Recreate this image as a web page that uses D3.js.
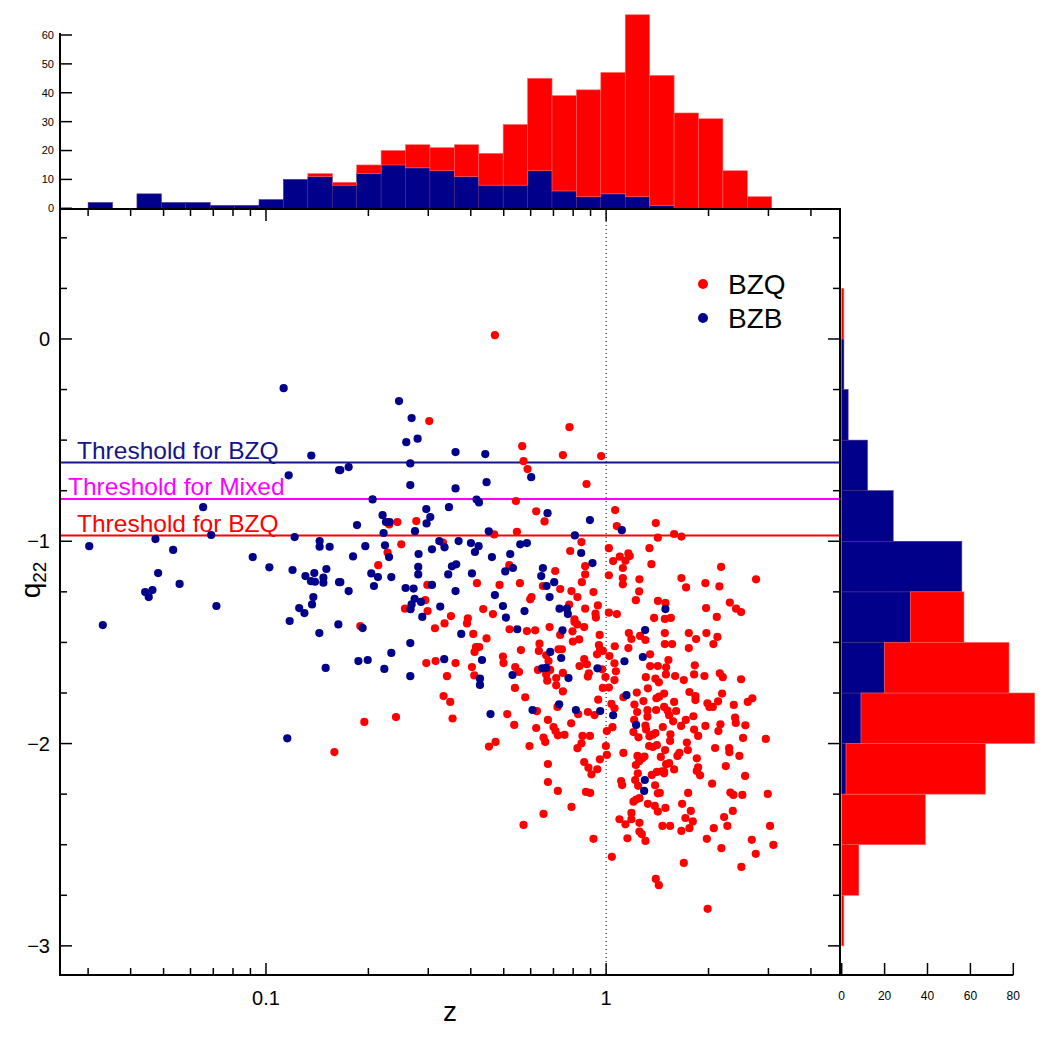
<!DOCTYPE html>
<html><head><meta charset="utf-8">
<script src="https://cdn.jsdelivr.net/npm/d3@7"></script>
<style>
body{margin:0;background:#fff}
svg{display:block}
text{font-family:"Liberation Sans",Arial,Helvetica,sans-serif}
</style>
</head><body>
<svg id="chart" width="1050" height="1050"></svg>
<script>
// ---------------- DATA ----------------
const seriesNames = ["BZQ", "BZB"];

// scatter points [z, q22]
const bzqPoints = [
[0.4710,0.019],[0.3020,-0.406],[0.7803,-0.436],[0.5666,-0.530],[0.7462,-0.574],[0.9669,-0.579],[0.5717,-0.604],[0.5875,-0.643],[0.8756,-0.717],[0.5430,-0.801],
[0.6229,-0.852],[0.6590,-0.902],[0.2304,-0.917],[0.2434,-0.905],[0.2766,-0.900],[0.4688,-0.966],[0.5466,-0.953],[0.8463,-1.004],[0.2499,-1.015],[0.3313,-1.007],
[0.7840,-1.048],[1.0187,-1.034],[0.2278,-1.056],[0.2138,-1.118],[0.5190,-1.118],[0.7084,-1.147],[0.8678,-1.123],[0.8678,-1.164],[1.0187,-1.168],[0.2981,-1.216],
[0.4171,-1.207],[0.4861,-1.216],[0.5579,-1.207],[0.6518,-1.221],[0.7327,-1.236],[0.7909,-1.246],[0.8486,-1.202],[0.9179,-1.251],[0.6034,-1.276],[0.5981,-1.287],
[0.8234,-1.276],[0.2940,-1.291],[0.2562,-1.333],[0.2986,-1.345],[0.4352,-1.335],[0.4647,-1.360],[0.7787,-1.313],[0.8678,-1.333],[0.9455,-1.317],[0.9305,-1.358],
[1.0187,-1.353],[0.3498,-1.370],[0.3922,-1.381],[0.8073,-1.386],[0.9330,-1.377],[0.1894,-1.419],[0.3139,-1.430],[0.3349,-1.406],[0.3899,-1.406],[0.4068,-1.458],
[0.4451,-1.480],[0.5201,-1.435],[0.5849,-1.444],[0.6187,-1.440],[0.6819,-1.424],[0.7327,-1.463],[0.7963,-1.445],[0.8073,-1.399],[0.8220,-1.411],[0.8620,-1.424],
[0.9572,-1.463],[0.2960,-1.602],[0.3152,-1.592],[0.3608,-1.602],[0.3405,-1.667],[0.4143,-1.523],[0.4236,-1.523],[0.4104,-1.547],[0.4032,-1.622],[0.4096,-1.663],
[0.4973,-1.570],[0.4993,-1.602],[0.5617,-1.538],[0.5404,-1.622],[0.5542,-1.646],[0.5393,-1.725],[0.6370,-1.506],[0.6341,-1.542],[0.6770,-1.592],[0.6665,-1.564],
[0.7244,-1.534],[0.7412,-1.534],[0.6303,-1.636],[0.6848,-1.636],[0.6665,-1.659],[0.6710,-1.689],[0.7132,-1.676],[0.7132,-1.712],[0.7462,-1.651],[0.7462,-1.742],
[0.5783,-1.771],[0.7984,-1.496],[0.8332,-1.485],[0.8620,-1.583],[0.8352,-1.617],[0.8778,-1.608],[0.8837,-1.669],[0.8896,-1.653],[0.9401,-1.559],[0.9604,-1.534],
[0.9781,-1.542],[0.9522,-1.513],[0.9955,-1.671],[0.9781,-1.725],[1.0187,-1.723],[0.9478,-1.783],[0.3327,-1.765],[0.3481,-1.794],[0.3536,-1.876],[0.2411,-1.869],
[0.1946,-1.893],[0.1589,-2.042],[0.5120,-1.854],[0.5368,-1.908],[0.4730,-1.992],[0.4524,-2.015],[0.6259,-1.840],[0.6744,-1.883],[0.6229,-1.923],[0.7003,-1.918],
[0.7099,-1.938],[0.7213,-1.959],[0.7545,-1.957],[0.6545,-1.970],[0.6621,-1.992],[0.5953,-2.012],[0.7194,-1.819],[0.8275,-1.855],[0.8837,-1.844],[0.9243,-1.859],
[0.7893,-1.900],[0.8521,-1.962],[0.8962,-1.962],[0.8463,-1.999],[0.8234,-2.023],[0.9982,-2.012],[1.0048,-2.056],[1.0048,-1.938],[0.9585,-2.078],[0.8620,-2.091],
[0.8870,-2.119],[0.9419,-2.127],[0.9055,-2.152],[0.6744,-2.101],[0.6744,-2.190],[0.7213,-2.234],[0.8720,-2.239],[0.8976,-2.244],[0.7909,-2.313],[0.6545,-2.348],
[0.5717,-2.402],[0.9179,-2.471],[1.0629,-0.846],[1.0752,-0.925],[1.3997,-0.910],[1.4191,-0.982],[1.5844,-0.964],[1.6644,-0.977],[1.3405,-1.034],
[1.0486,-1.098],[1.0966,-1.076],[1.1396,-1.096],[1.1625,-1.060],[1.1733,-1.073],[1.1197,-1.132],[1.3587,-1.113],[2.1774,-1.127],[2.7590,-1.188],[1.1197,-1.182],
[1.1197,-1.213],[1.2529,-1.188],[1.2504,-1.248],[1.6644,-1.182],[1.7182,-1.228],[1.9580,-1.207],[2.1526,-1.223],[1.2228,-1.291],[1.4201,-1.295],[1.4938,-1.305],
[2.3098,-1.303],[2.4099,-1.333],[2.4928,-1.350],[1.9672,-1.330],[2.1146,-1.374],[1.0752,-1.360],[1.3838,-1.379],[1.4878,-1.384],[1.5494,-1.379],[1.1661,-1.454],
[1.1868,-1.483],[1.2587,-1.468],[1.3048,-1.488],[1.4878,-1.454],[1.7499,-1.454],[1.8385,-1.483],[1.9713,-1.454],[2.1241,-1.473],[2.0669,-1.508],[1.4878,-1.508],
[1.5630,-1.508],[1.7499,-1.528],[1.0602,-1.519],[1.1625,-1.528],[1.0226,-1.567],[1.3468,-1.559],[1.0580,-1.603],[0.9735,-1.633],[1.0680,-1.643],[1.5244,-1.587],
[1.3468,-1.617],[1.4191,-1.617],[1.5008,-1.623],[1.8224,-1.613],[1.4986,-1.658],[1.5952,-1.666],[1.3083,-1.672],[1.3961,-1.679],[1.4287,-1.697],[1.6918,-1.686],
[1.8140,-1.658],[1.9451,-1.666],[2.1584,-1.653],[2.2025,-1.672],[2.4928,-1.682],[1.0580,-1.686],[1.3264,-1.727],[1.2308,-1.748],[1.1242,-1.771],
[1.2873,-1.790],[1.4055,-1.776],[1.4314,-1.768],[1.4807,-1.753],[1.5844,-1.794],[1.7573,-1.745],[1.8300,-1.765],[1.8300,-1.785],[1.9852,-1.801],[2.0118,-1.819],
[2.0584,-1.819],[2.1336,-1.791],[2.1921,-1.753],[2.3727,-1.809],[2.6082,-1.794],[2.6909,-1.776],[1.0365,-1.804],[1.0580,-1.826],[1.2112,-1.807],[1.2335,-1.844],
[1.2091,-1.883],[1.3225,-1.835],[1.3225,-1.867],[1.4026,-1.834],[1.4807,-1.819],[1.5145,-1.837],[1.6058,-1.839],[1.5736,-1.890],[1.5316,-1.860],[1.7149,-1.883],
[1.8055,-1.865],[1.6611,-1.913],[1.4676,-1.918],[1.3048,-1.911],[1.3108,-1.931],[1.2030,-1.943],[1.2446,-1.969],[1.3405,-1.964],[1.3716,-1.956],[1.3961,-1.948],
[1.5451,-1.954],[1.5420,-1.987],[1.8140,-1.931],[1.8641,-1.962],[1.9580,-1.913],[2.1378,-1.938],[2.1670,-1.905],[2.3939,-1.872],[2.4053,-1.898],[2.5666,-1.910],
[2.5268,-1.972],[2.9462,-1.977],[1.0436,-1.919],[1.1242,-2.046],[1.3377,-2.012],[1.3716,-2.017],[1.4093,-2.008],[1.4908,-2.032],[1.4480,-2.066],[1.5008,-2.102],
[1.5316,-2.097],[1.4807,-2.138],[1.5844,-2.128],[1.6202,-2.061],[1.6422,-2.046],[1.7268,-1.995],[1.7387,-2.032],[1.8475,-2.073],[1.8641,-2.117],[1.8890,-2.157],
[1.8475,-2.135],[2.0909,-2.022],[2.2985,-2.023],[2.3034,-2.043],[2.4645,-2.061],[2.2479,-2.111],[2.5614,-2.160],[2.0487,-2.198],[1.2363,-2.061],[1.2504,-2.087],
[1.2228,-2.106],[1.2758,-2.074],[1.2961,-2.064],[1.2391,-2.147],[1.3624,-2.155],[1.4093,-2.140],[1.4578,-2.137],[1.4807,-2.147],[1.2170,-2.180],[1.2420,-2.209],
[1.3933,-2.206],[1.1069,-2.185],[1.1145,-2.205],[1.2030,-2.287],[1.2251,-2.277],[1.2529,-2.270],[1.3264,-2.298],[1.3903,-2.308],[1.4191,-2.336],[1.4191,-2.246],
[1.4382,-2.244],[1.4938,-2.318],[1.6724,-2.298],[1.7739,-2.333],[1.7421,-2.244],[1.7105,-2.368],[1.7979,-2.385],[1.7573,-2.418],[1.6644,-2.432],[1.4637,-2.407],
[1.5420,-2.407],[1.1868,-2.343],[1.1868,-2.374],[1.0943,-2.374],[1.1396,-2.399],[1.2529,-2.392],[1.2529,-2.435],[1.2733,-2.448],[1.3048,-2.481],[1.1551,-2.468],
[1.0394,-2.560],[1.9770,-2.471],[2.1817,-2.517],[2.0725,-2.418],[2.2222,-2.363],[2.2721,-2.407],[2.3567,-2.333],[2.3187,-2.242],[2.3664,-2.254],[2.5149,-2.254],
[2.9865,-2.249],[2.6800,-2.476],[2.7537,-2.545],[3.0332,-2.407],[3.1021,-2.501],[2.4978,-2.610],[1.6918,-2.590],[1.3997,-2.669],[1.4287,-2.700],[1.9880,-2.817]
];

const bzbPoints = [
[0.1127,-0.243],[0.1359,-0.576],[0.1166,-0.674],[0.1640,-0.648],[0.06535,-0.831],[0.0690,-0.969],[0.03023,-1.024],[0.04732,-0.989],[0.05334,-1.043],[0.1214,-0.979],
[0.1438,-0.999],[0.1438,-1.027],[0.1539,-1.027],[0.0914,-1.078],[0.1023,-1.129],[0.1197,-1.142],[0.1505,-1.137],[0.1306,-1.172],[0.1387,-1.157],[0.1475,-1.180],
[0.1356,-1.197],[0.1393,-1.200],[0.1475,-1.205],[0.1640,-1.202],[0.04819,-1.157],[0.05573,-1.211],[0.04414,-1.251],[0.04637,-1.241],[0.04522,-1.276],[0.1378,-1.276],
[0.1366,-1.312],[0.0715,-1.320],[0.1252,-1.330],[0.1297,-1.355],[0.1174,-1.394],[0.1632,-1.411],[0.03314,-1.414],[0.1435,-1.454],[0.1498,-1.626],[0.1155,-1.974],
[0.2461,-0.307],[0.2680,-0.391],[0.2585,-0.510],[0.2791,-0.493],[0.3608,-0.559],[0.4412,-0.569],[0.6022,-0.683],[0.1654,-0.648],[0.1750,-0.633],[0.2656,-0.615],
[0.2656,-0.722],[0.4451,-0.708],[0.3608,-0.739],[0.2058,-0.793],[0.4160,-0.794],[0.4229,-0.808],[0.3451,-0.831],[0.2960,-0.841],[0.3041,-0.880],[0.2966,-0.912],
[0.6726,-0.861],[0.8962,-0.895],[0.2202,-0.871],[0.1852,-0.920],[0.2253,-0.905],[0.2309,-0.905],[0.2217,-0.959],[0.2742,-0.950],[0.4518,-0.951],[0.8093,-0.971],
[0.1959,-1.024],[0.2238,-1.020],[0.3232,-0.999],[0.3684,-0.999],[0.4005,-1.009],[0.4218,-1.024],[0.4115,-1.053],[0.3349,-1.030],[0.3076,-1.040],[0.5590,-1.015],
[0.5849,-1.009],[0.8446,-1.058],[0.1803,-1.075],[0.2300,-1.078],[0.2809,-1.063],[0.4616,-1.078],[0.5224,-1.063],[0.2803,-1.127],[0.2803,-1.164],[0.3521,-1.124],
[0.3625,-1.114],[0.5321,-1.132],[0.5051,-1.149],[0.6518,-1.132],[0.9117,-1.108],[0.2040,-1.159],[0.2134,-1.177],[0.2336,-1.177],[0.3434,-1.164],[0.4032,-1.159],
[0.6444,-1.172],[0.1654,-1.202],[0.1750,-1.246],[0.2077,-1.221],[0.2573,-1.231],[0.2716,-1.234],[0.3076,-1.216],[0.3608,-1.246],[0.6680,-1.221],[0.7036,-1.202],
[0.4710,-1.266],[0.6819,-1.276],[0.2735,-1.284],[0.2680,-1.312],[0.2661,-1.336],[0.2856,-1.300],[0.3253,-1.323],[0.4973,-1.320],[0.5755,-1.345],[0.7294,-1.333],
[0.7667,-1.333],[0.7718,-1.360],[0.5075,-1.377],[0.2881,-1.374],[0.1924,-1.429],[0.3750,-1.458],[0.5480,-1.435],[0.7442,-1.440],[0.2656,-1.503],[0.2336,-1.552],
[0.1869,-1.592],[0.1991,-1.587],[0.2228,-1.631],[0.2656,-1.667],[0.3342,-1.583],[0.4315,-1.587],[0.4257,-1.679],[0.4257,-1.710],[0.5306,-1.661],[0.6848,-1.547],
[0.7377,-1.577],[0.6487,-1.628],[0.6665,-1.626],[0.7751,-1.676],[0.9430,-1.628],[0.4572,-1.854],[0.6075,-1.834],[0.7275,-1.806],[0.8149,-1.834],[0.9604,-1.839],
[1.1122,-0.945],[1.4939,-1.335],[1.3021,-1.439],[1.2820,-1.572],[1.1320,-1.593],[1.1474,-1.761],[1.0486,-1.860],[1.2251,-1.908],[1.2994,-2.180],[1.2933,-2.234]
];

// top histogram (z, log bins) : stacked counts
const topBinZMin = 0.03, topBinZMax = 4.27;
const topBzb = [2,0,5,2,2,1,1,3,10,11,8,12,15,14,13,11,8,8,13,6,4,5,4,1,0,0,0,0,0,0];
const topBzq = [0,0,0,0,0,0,0,0,0,1,1,3,5,8,8,11,11,21,32,33,37,42,63,45,33,31,13,4,0,0];

// right histogram (q22 bins of 0.25, lower edges) : stacked counts
const rightBinLow = [-3,-2.75,-2.5,-2.25,-2,-1.75,-1.5,-1.25,-1,-0.75,-0.5,-0.25,0];
const rightBinWidth = 0.25;
const rightBzb = [0,0,0,2,9,20,32,56,24,12,3,1,0];
const rightBzq = [1,8,39,65,81,58,25,0,0,0,0,0,1];

// thresholds
const thresholdLabels = ["Threshold for BZQ","Threshold for Mixed","Threshold for BZQ"];
const thresholdValues = [-0.611,-0.791,-0.972];

// axis ticks
const xTickValues = [0.1, 1];
const xTickLabels = ["0.1","1"];
const yTickValues = [0,-1,-2,-3];
const yTickLabels = ["0","\u22121","\u22122","\u22123"];
const topTickValues = [0,10,20,30,40,50,60];
const rightTickValues = [0,20,40,60,80];

// ---------------- LAYOUT ----------------
const RED = "#ff0000", BLUE = "#00008a";
const thrColors = ["#14148c","#ff00ff","#ff0000"];
const L = 60, R = 840, T = 209, B = 975;
const svg = d3.select("#chart");

const x = d3.scaleLog().domain([0.0248, 4.87]).range([L, R]);
const y = d3.scaleLinear().domain([-3.144, 0.6425]).range([B, T]);
const yTop = d3.scaleLinear().domain([0, 60]).range([208.3, 35]);
const xRight = d3.scaleLinear().domain([0, 80]).range([841.7, 1013.3]);

// ---- top histogram
const nTop = topBzb.length;
const lzmin = Math.log10(topBinZMin), lzmax = Math.log10(topBinZMax);
const topBins = topBzb.map((b, i) => ({
  z0: Math.pow(10, lzmin + (lzmax - lzmin) * i / nTop),
  z1: Math.pow(10, lzmin + (lzmax - lzmin) * (i + 1) / nTop),
  bzb: b, bzq: topBzq[i]
}));
const gTop = svg.append("g");
gTop.selectAll("rect.tb").data(topBins.filter(d => d.bzb > 0)).join("rect")
  .attr("x", d => x(d.z0)).attr("width", d => x(d.z1) - x(d.z0))
  .attr("y", d => yTop(d.bzb)).attr("height", d => yTop(0) - yTop(d.bzb))
  .attr("fill", BLUE).attr("stroke", "#4a2a8a").attr("stroke-width", 0.6);
gTop.selectAll("rect.tr").data(topBins.filter(d => d.bzq > 0)).join("rect")
  .attr("x", d => x(d.z0)).attr("width", d => x(d.z1) - x(d.z0))
  .attr("y", d => yTop(d.bzb + d.bzq)).attr("height", d => yTop(d.bzb) - yTop(d.bzb + d.bzq))
  .attr("fill", RED).attr("stroke", "#ff6060").attr("stroke-width", 0.6);
// top hist y axis
gTop.append("line").attr("x1", L).attr("x2", L).attr("y1", yTop(60) - 2).attr("y2", yTop(0))
  .attr("stroke", "#000").attr("stroke-width", 2);
gTop.selectAll("line.tt").data(topTickValues).join("line")
  .attr("x1", L).attr("x2", L + 12).attr("y1", d => yTop(d)).attr("y2", d => yTop(d))
  .attr("stroke", "#000").attr("stroke-width", 1.5);
gTop.selectAll("text").data(topTickValues).join("text")
  .attr("x", 54).attr("y", d => yTop(d)).attr("dy", "0.36em")
  .attr("text-anchor", "end").attr("font-size", 11).text(d => d);

// ---- right histogram
const rightBins = rightBinLow.map((q0, i) => ({q0, q1: q0 + rightBinWidth, bzb: rightBzb[i], bzq: rightBzq[i]}));
const gR = svg.append("g");
gR.selectAll("rect.rb").data(rightBins.filter(d => d.bzb > 0)).join("rect")
  .attr("x", xRight(0)).attr("width", d => xRight(d.bzb) - xRight(0))
  .attr("y", d => y(d.q1)).attr("height", d => y(d.q0) - y(d.q1))
  .attr("fill", BLUE).attr("stroke", "#4a2a8a").attr("stroke-width", 0.6);
gR.selectAll("rect.rr").data(rightBins.filter(d => d.bzq > 0)).join("rect")
  .attr("x", d => xRight(d.bzb)).attr("width", d => xRight(d.bzb + d.bzq) - xRight(d.bzb))
  .attr("y", d => y(d.q1)).attr("height", d => y(d.q0) - y(d.q1))
  .attr("fill", RED).attr("stroke", "#ff6060").attr("stroke-width", 0.6);
gR.append("line").attr("x1", R).attr("x2", xRight(80)).attr("y1", B).attr("y2", B)
  .attr("stroke", "#000").attr("stroke-width", 2);
gR.selectAll("line.rt").data(rightTickValues).join("line")
  .attr("x1", d => xRight(d)).attr("x2", d => xRight(d)).attr("y1", B).attr("y2", B - 12)
  .attr("stroke", "#000").attr("stroke-width", 1.5);
gR.selectAll("text").data(rightTickValues).join("text")
  .attr("x", d => xRight(d)).attr("y", 1000).attr("text-anchor", "middle")
  .attr("font-size", 12).text(d => d);

// ---- main plot
const gM = svg.append("g");
// dotted line at z = 1
gM.append("line").attr("x1", x(1)).attr("x2", x(1)).attr("y1", T).attr("y2", B)
  .attr("stroke", "#000").attr("stroke-width", 1).attr("stroke-dasharray", "1,3");
// thresholds
thresholdValues.forEach((v, i) => {
  gM.append("line").attr("x1", L).attr("x2", R).attr("y1", y(v)).attr("y2", y(v))
    .attr("stroke", thrColors[i]).attr("stroke-width", 2);
});
const thrTextX = [77, 68, 77];
thresholdLabels.forEach((t, i) => {
  gM.append("text").attr("x", thrTextX[i]).attr("y", y(thresholdValues[i]) - 4)
    .attr("font-size", 24.5).attr("fill", thrColors[i]).text(t);
});
// points
gM.selectAll("circle.q").data(bzqPoints).join("circle")
  .attr("cx", d => x(d[0])).attr("cy", d => y(d[1])).attr("r", 4.1).attr("fill", RED);
gM.selectAll("circle.b").data(bzbPoints).join("circle")
  .attr("cx", d => x(d[0])).attr("cy", d => y(d[1])).attr("r", 4.1).attr("fill", BLUE);

// frame
gM.append("rect").attr("x", L).attr("y", T).attr("width", R - L).attr("height", B - T)
  .attr("fill", "none").attr("stroke", "#000").attr("stroke-width", 2);

// x ticks (log) on bottom and top
const xMinor = [];
[0.01, 0.1, 1].forEach(dec => { for (let k = 2; k <= 9; k++) { const v = dec * k; if (v > x.domain()[0] && v < x.domain()[1]) xMinor.push(v); } });
const xTicks = xMinor.map(v => ({v, len: 7})).concat(xTickValues.map(v => ({v, len: 12})));
gM.selectAll("line.xb").data(xTicks).join("line").attr("class", "xb")
  .attr("x1", d => x(d.v)).attr("x2", d => x(d.v)).attr("y1", B).attr("y2", d => B - d.len)
  .attr("stroke", "#000").attr("stroke-width", 1.5);
gM.selectAll("line.xt").data(xTicks).join("line").attr("class", "xt")
  .attr("x1", d => x(d.v)).attr("x2", d => x(d.v)).attr("y1", T).attr("y2", d => T + d.len)
  .attr("stroke", "#000").attr("stroke-width", 1.5);
gM.selectAll("text.xl").data(xTickValues).join("text").attr("class", "xl")
  .attr("x", d => x(d)).attr("y", 1005).attr("text-anchor", "middle").attr("font-size", 20)
  .text((d, i) => xTickLabels[i]);

// y ticks
const yTicks = d3.range(-12, 3).map(k => k * 0.25).map(v => ({v, len: Number.isInteger(v) ? 12 : 7}));
gM.selectAll("line.yl").data(yTicks).join("line").attr("class", "yl")
  .attr("x1", L).attr("x2", d => L + d.len).attr("y1", d => y(d.v)).attr("y2", d => y(d.v))
  .attr("stroke", "#000").attr("stroke-width", 1.5);
gM.selectAll("line.yr").data(yTicks).join("line").attr("class", "yr")
  .attr("x1", R).attr("x2", d => R - d.len).attr("y1", d => y(d.v)).attr("y2", d => y(d.v))
  .attr("stroke", "#000").attr("stroke-width", 1.5);
gM.selectAll("text.yl").data(yTickValues).join("text").attr("class", "yl")
  .attr("x", 50).attr("y", d => y(d)).attr("dy", "0.36em").attr("text-anchor", "end")
  .attr("font-size", 20).text((d, i) => yTickLabels[i]);

// axis titles
gM.append("text").attr("x", 450).attr("y", 1021).attr("text-anchor", "middle")
  .attr("font-size", 28).text("z");
const yt = gM.append("text").attr("transform", "translate(40,580) rotate(-90)")
  .attr("text-anchor", "middle").attr("font-size", 28);
yt.append("tspan").text("q");
yt.append("tspan").attr("font-size", 19).attr("dy", 6).text("22");

// legend
const legY = [284, 318];
const legColors = [RED, BLUE];
seriesNames.forEach((n, i) => {
  gM.append("circle").attr("cx", 703).attr("cy", legY[i]).attr("r", 5).attr("fill", legColors[i]);
  gM.append("text").attr("x", 728).attr("y", legY[i]).attr("dy", "0.36em")
    .attr("font-size", 28).text(n);
});
</script>
</body></html>
